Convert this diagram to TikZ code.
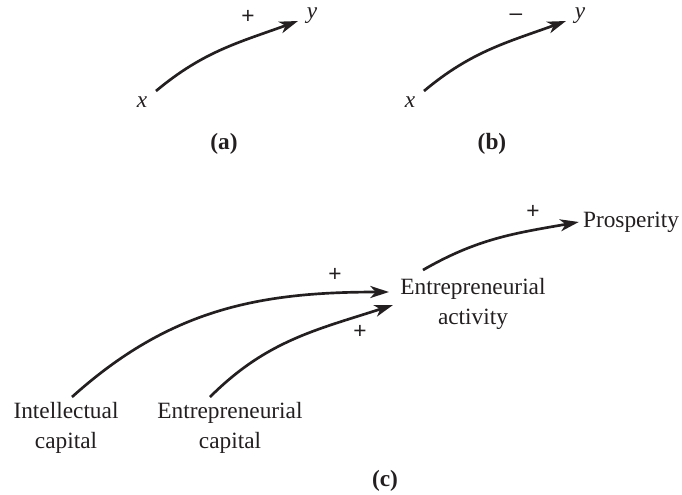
\documentclass[tikz,border=0pt]{standalone}
\usepackage{fontspec}
\setmainfont{Liberation Serif}
\newfontfamily\signfont{Liberation Sans}
\usetikzlibrary{arrows.meta, positioning}
\definecolor{cInk}{RGB}{35,31,32}
\tikzset{
	lbl/.style={inner sep=1pt, text=cInk, font=\fontsize{17.5}{22}\selectfont, align=center},
	var/.style={inner sep=1pt, text=cInk, font=\fontsize{17.5}{22}\selectfont\itshape},
	panellbl/.style={inner sep=1pt, text=cInk, font=\fontsize{17.5}{22}\selectfont\bfseries},
	sign/.style={inner sep=1pt, text=cInk, font=\fontsize{17}{19}\selectfont\signfont},
	linkarrow/.style={-{Stealth[length=14pt, width=9pt, inset=4pt]}, line width=2pt, draw=cInk},
}
\begin{document}
\begin{tikzpicture}[x=0.75pt, y=-0.75pt]
	\useasboundingbox (0,0) rectangle (682,494);
	% (a) and (b)
	\foreach \p/\dx/\s in {a/0/+, b/268/\textendash} {
		\node[var] (x\p) at (142+\dx,102) {x};
		\node[var] (y\p) at (312+\dx,16) {y};
		\node[sign] (s\p) at (248+\dx,17) {\s};
		\node[panellbl] (c\p) at (224+\dx,144) {(\p)};
		\coordinate (t\p) at (156+\dx,91);
		\coordinate (h\p) at (298+\dx,21);
		\draw[linkarrow] (t\p) to[out=40, in=200] (h\p);
	}
	% (c)
	\node[lbl] (ic) at (66,428) {Intellectual\\capital};
	\node[lbl] (ec) at (230,428) {Entrepreneurial\\capital};
	\node[lbl] (ea) at (473,304) {Entrepreneurial\\activity};
	\node[lbl] (pr) at (631,222) {Prosperity};
	\node[panellbl] (cc) at (385,481) {(c)};
	\node[sign] (s1) at (335,275) {+};
	\node[sign] (s2) at (360,332) {+};
	\node[sign] (s3) at (533,212) {+};
	\coordinate (ict) at (72,397);
	\coordinate (ect) at (210,397);
	\coordinate (eat) at (423,270);
	\coordinate (eah1) at (389,292);
	\coordinate (eah2) at (393,305);
	\draw[linkarrow] (ict) to[out=42, in=180] (eah1);
	\draw[linkarrow] (ect) to[out=45, in=198] (eah2);
	\draw[linkarrow] (eat) to[out=30, in=190] ([xshift=-2pt]pr.west);
\end{tikzpicture}
\end{document}
